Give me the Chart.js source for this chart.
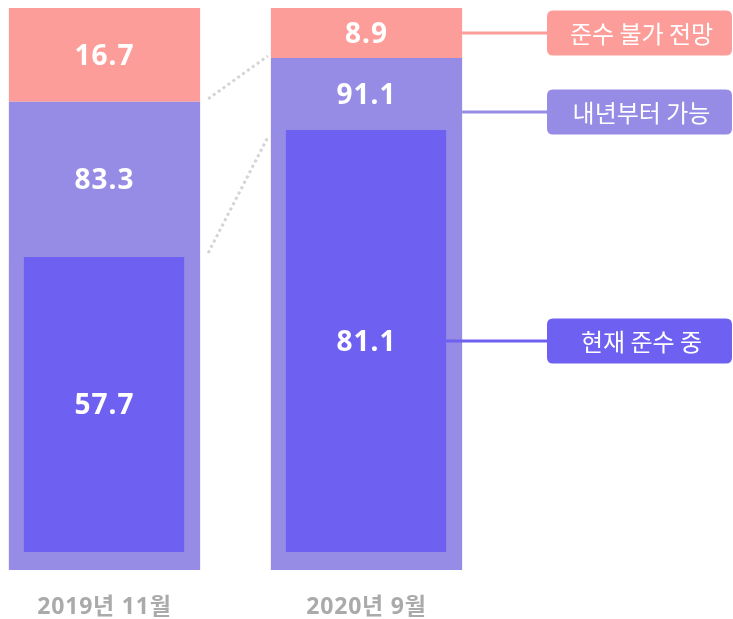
<!DOCTYPE html>
<html><head><meta charset="utf-8">
<script src="https://cdn.jsdelivr.net/npm/chart.js@4/dist/chart.umd.min.js"></script>
<style>html,body{margin:0;padding:0;background:#fff}</style>
</head><body>
<canvas id="c" width="733" height="619"></canvas>
<script>
// ---- data ----
const categories = ['2019년 11월', '2020년 9월'];
const seriesNames = ['현재 준수 중', '내년부터 가능', '준수 불가 전망'];
const currentlyCompliant = [57.7, 81.1];      // 현재 준수 중
const possibleFromNextYear = [83.3, 91.1];    // 내년부터 가능
const notExpected = [16.7, 8.9];              // 준수 불가 전망

// ---- styles ----
const COLORS = { dark: '#6E60F0', light: '#968BE5', pink: '#FD9D9A', dots: '#d4d4d4', axis: '#aaaaaa' };
const INNER_BORDER = { top: 0, left: 15, right: 16, bottom: 18 };
const NUM_SIZE = 28;
const NUM_FONT = 'bold ' + NUM_SIZE + 'px "Noto Sans", "Noto Sans CJK KR", sans-serif';
const TAG_FONT = '24px "Noto Sans CJK KR", "Noto Sans", sans-serif';

function roundRect(ctx, x, y, w, h, r) {
  ctx.beginPath();
  ctx.moveTo(x + r, y);
  ctx.lineTo(x + w - r, y); ctx.quadraticCurveTo(x + w, y, x + w, y + r);
  ctx.lineTo(x + w, y + h - r); ctx.quadraticCurveTo(x + w, y + h, x + w - r, y + h);
  ctx.lineTo(x + r, y + h); ctx.quadraticCurveTo(x, y + h, x, y + h - r);
  ctx.lineTo(x, y + r); ctx.quadraticCurveTo(x, y, x + r, y);
  ctx.closePath();
}

const spacing = {
  id: 'spacing',
  beforeDraw(chart) { chart.ctx.letterSpacing = '0.8px'; }
};

const annotations = {
  id: 'annotations',
  afterDatasetsDraw(chart) {
    const ctx = chart.ctx;
    const inner = chart.getDatasetMeta(0).data;
    const light = chart.getDatasetMeta(1).data;
    const pink = chart.getDatasetMeta(2).data;
    ctx.save();

    // dotted connectors between the two columns
    const r0 = light[0].x + light[0].width / 2;
    const l1 = light[1].x - light[1].width / 2;
    ctx.strokeStyle = COLORS.dots; ctx.lineWidth = 3; ctx.setLineDash([3, 3]);
    ctx.beginPath(); ctx.moveTo(r0 + 8, pink[0].base - 3); ctx.lineTo(l1 - 3, pink[1].base - 2); ctx.stroke();
    ctx.beginPath(); ctx.moveTo(r0 + 8, inner[0].y - 4); ctx.lineTo(l1 - 3, inner[1].y + 7); ctx.stroke();
    ctx.setLineDash([]);

    // value labels
    ctx.letterSpacing = '1px';
    ctx.fillStyle = '#fff'; ctx.font = NUM_FONT; ctx.textAlign = 'center'; ctx.textBaseline = 'alphabetic';
    const cap = NUM_SIZE * 0.357;
    const centers = [];
    for (let i = 0; i < categories.length; i++) {
      const yp = (pink[i].y + pink[i].base) / 2;
      const yl = (light[i].y + inner[i].y) / 2;
      const yi = (inner[i].y + inner[i].base - INNER_BORDER.bottom) / 2;
      ctx.fillText(notExpected[i].toFixed(1), pink[i].x, yp + cap);
      ctx.fillText(possibleFromNextYear[i].toFixed(1), light[i].x, yl + cap);
      ctx.fillText(currentlyCompliant[i].toFixed(1), inner[i].x, yi + cap);
      centers.push({ yp, yl, yi });
    }

    // legend tags for the last column
    ctx.letterSpacing = '0px';
    const last = categories.length - 1;
    const right = light[last].x + light[last].width / 2;
    const innerRight = right - INNER_BORDER.right;
    const boxX = 547, boxW = 185, boxH = 45;
    const tags = [
      { y: centers[last].yp, x0: right, color: COLORS.pink, text: seriesNames[2] },
      { y: light[last].y + 0.75 * (inner[last].y - light[last].y), x0: right, color: COLORS.light, text: seriesNames[1] },
      { y: centers[last].yi, x0: innerRight, color: COLORS.dark, text: seriesNames[0] }
    ];
    tags.forEach(t => {
      ctx.strokeStyle = t.color; ctx.lineWidth = 3;
      ctx.beginPath(); ctx.moveTo(t.x0, t.y); ctx.lineTo(boxX + 2, t.y); ctx.stroke();
      ctx.fillStyle = t.color;
      roundRect(ctx, boxX, t.y - boxH / 2, boxW, boxH, 6);
      ctx.fill();
      ctx.fillStyle = '#fff'; ctx.font = TAG_FONT; ctx.textAlign = 'center'; ctx.textBaseline = 'middle';
      ctx.fillText(t.text, boxX + boxW / 2 + 2, t.y + 1);
    });
    ctx.restore();
  }
};

new Chart(document.getElementById('c'), {
  type: 'bar',
  data: {
    labels: categories,
    datasets: [
      { label: seriesNames[0], data: currentlyCompliant, yAxisID: 'y2',
        backgroundColor: COLORS.dark, borderColor: COLORS.light,
        borderWidth: INNER_BORDER, borderSkipped: false },
      { label: seriesNames[1], data: possibleFromNextYear, yAxisID: 'y', stack: 'outer',
        backgroundColor: COLORS.light, borderWidth: 0 },
      { label: seriesNames[2], data: notExpected, yAxisID: 'y', stack: 'outer',
        backgroundColor: COLORS.pink, borderWidth: 0 }
    ]
  },
  options: {
    responsive: false,
    animation: false,
    devicePixelRatio: 1,
    layout: { padding: { left: 104.5, right: 366.5, top: 8, bottom: 0 } },
    datasets: { bar: { grouped: false, barPercentage: 0.73, categoryPercentage: 1, clip: false } },
    plugins: { legend: { display: false }, tooltip: { enabled: false } },
    scales: {
      x: {
        offset: false,
        grid: { display: false, drawTicks: false },
        border: { display: false },
        afterFit(scale) { scale.height = 49; },
        ticks: { color: COLORS.axis, font: { family: '"Noto Sans", "Noto Sans CJK KR", sans-serif', size: 23, weight: 'bold' },
                 padding: 24, maxRotation: 0, autoSkip: false }
      },
      y: { display: false, stacked: true, min: 0, max: 100 },
      y2: { display: false, stacked: false, min: 0, max: 103.6 }
    }
  },
  plugins: [spacing, annotations]
});
</script>
</body></html>
